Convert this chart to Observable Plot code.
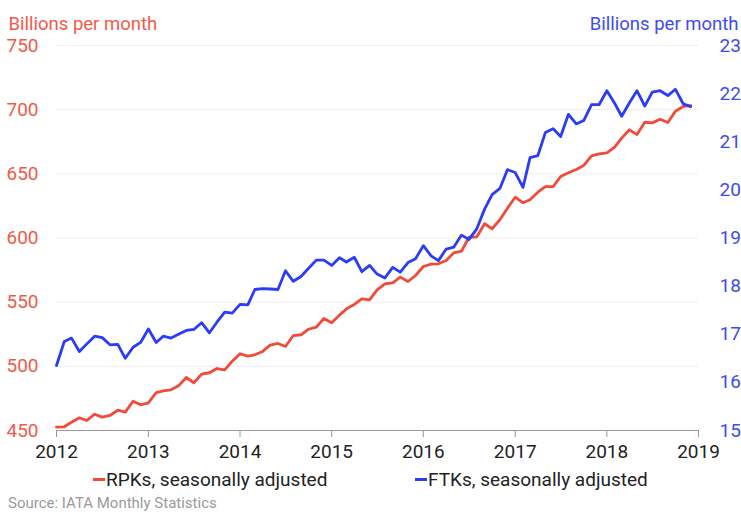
<!DOCTYPE html>
<html><head><meta charset="utf-8">
<script src="https://cdn.jsdelivr.net/npm/d3@7"></script>
<script src="https://cdn.jsdelivr.net/npm/@observablehq/plot@0.6"></script>
<style>
body{margin:0;background:#fff;font-family:Roboto,"Liberation Sans",sans-serif;}
#wrap{position:relative;width:741px;height:512px;overflow:hidden;}
.leg{position:absolute;top:468px;font-size:19px;color:#222;white-space:nowrap;line-height:24px;}
.leg .sw{display:inline-block;width:12px;height:3px;vertical-align:middle;margin-right:1px;position:relative;top:-1px;}
#src{position:absolute;left:8px;top:495px;font-size:15px;color:#9a9a9a;line-height:16px;}
</style></head><body>
<div id="wrap"><div id="chart"></div>
<div class="leg" style="left:93px"><span class="sw" style="background:#f04a3a"></span>RPKs, seasonally adjusted</div>
<div class="leg" style="left:415px"><span class="sw" style="background:#2a3cf5"></span>FTKs, seasonally adjusted</div>
<div id="src">Source: IATA Monthly Statistics</div>
</div>
<script>
// Monthly values, Jan 2012 – Dec 2018
const rpk = [452.6,452.9,456.5,459.9,457.8,462.7,460.4,461.7,465.8,464.3,472.8,470.0,
  471.6,479.6,480.9,481.7,484.8,491.3,487.2,493.9,495.0,498.3,497.3,504.0,
  509.8,507.9,509.0,511.6,516.5,517.8,515.5,524.0,524.6,528.9,530.5,537.3,
  533.9,539.9,544.8,548.2,552.6,551.8,559.6,564.3,565.1,569.5,566.1,570.8,
  577.8,579.6,579.9,582.5,588.4,589.7,600.6,600.9,611.1,607.2,614.2,623.2,
  631.8,627.4,629.8,635.7,640.1,640.1,647.9,650.8,653.4,656.5,664.0,665.6,
  666.4,670.8,677.8,684.3,680.6,690.2,689.7,692.6,690.0,698.8,702.5,703.2];
const ftk = [16.35,16.85,16.92,16.64,16.80,16.96,16.93,16.78,16.79,16.50,16.73,16.83,
  17.11,16.83,16.96,16.92,17.00,17.08,17.10,17.24,17.03,17.25,17.46,17.44,
  17.62,17.61,17.93,17.95,17.94,17.93,18.32,18.10,18.20,18.37,18.54,18.54,
  18.43,18.59,18.50,18.60,18.30,18.43,18.25,18.17,18.39,18.29,18.49,18.57,
  18.84,18.63,18.53,18.77,18.81,19.06,18.97,19.19,19.60,19.90,20.03,20.42,
  20.36,20.05,20.67,20.71,21.19,21.27,21.11,21.57,21.37,21.44,21.77,21.77,
  22.06,21.80,21.53,21.81,22.06,21.74,22.03,22.06,21.96,22.09,21.79,21.73];
const years = [2012,2013,2014,2015,2016,2017,2018,2019];
const leftTicks = [450,500,550,600,650,700,750];
const rightTicks = [15,16,17,18,19,20,21,22,23];
const leftLabel = "Billions per month";
const rightLabel = "Billions per month";

const RED = "#f04a3a", BLUE = "#2a3cf5";
const toLeft = v => 450 + (v - 15) * 37.5;
const toRight = v => 15 + (v - 450) / 37.5;
const data = rpk.map((v, i) => ({date: new Date(Date.UTC(2012, i, 1)), rpk: v, ftk: ftk[i]}));
const yearDates = years.map(y => new Date(Date.UTC(y, 0, 1)));

const chart = Plot.plot({
  width: 741, height: 470,
  marginLeft: 56, marginRight: 43, marginTop: 45, marginBottom: 40,
  style: {fontFamily: "Roboto, 'Liberation Sans', sans-serif", fontSize: "19px", background: "#fff"},
  x: {type: "utc", domain: [yearDates[0], yearDates[yearDates.length - 1]]},
  y: {domain: [450, 750]},
  marks: [
    Plot.ruleY(leftTicks.slice(1), {stroke: "#eeeeee", strokeWidth: 1}),
    Plot.ruleY([450], {stroke: "#9a9a9a", strokeWidth: 1.2}),
    Plot.axisY(leftTicks, {anchor: "left", tickSize: 0, tickPadding: 3, textAnchor: "start", dx: -47, color: "#f25a48", label: null}),
    Plot.axisY(rightTicks.map(toLeft), {anchor: "right", tickSize: 0, tickPadding: 21, color: "#3d4cf2", label: null, tickFormat: d => String(Math.round(toRight(d)))}),
    Plot.axisX(yearDates, {anchor: "bottom", tickSize: 7, tickPadding: 7, stroke: "#9a9a9a", fill: "#222", tickFormat: d => String(d.getUTCFullYear()), label: null}),
    Plot.lineY(data, {x: "date", y: "rpk", stroke: RED, strokeWidth: 2.8}),
    Plot.lineY(data, {x: "date", y: d => toLeft(d.ftk), stroke: BLUE, strokeWidth: 2.8}),
    Plot.text([leftLabel], {frameAnchor: "top-left", dx: -48, dy: -28.5, textAnchor: "start", fill: "#f25a48", fontSize: 18.5}),
    Plot.text([rightLabel], {frameAnchor: "top-right", dx: 40, dy: -28.5, textAnchor: "end", fill: "#3d4cf2", fontSize: 18.5})
  ]
});
document.getElementById("chart").appendChild(chart);
</script>
</body></html>
